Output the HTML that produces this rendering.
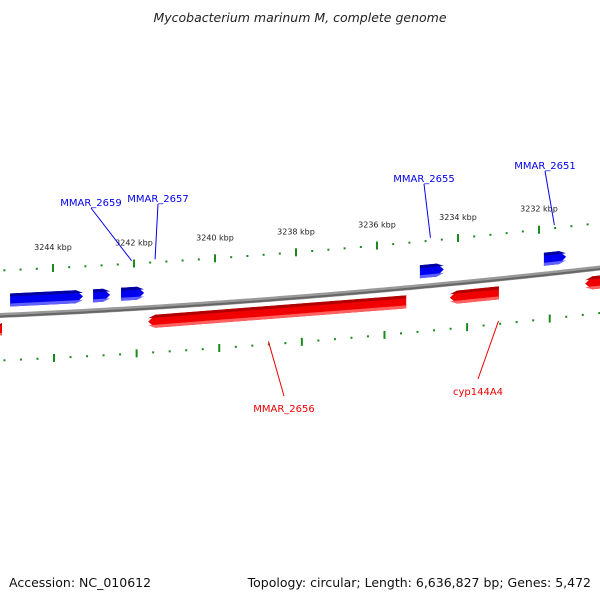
<!DOCTYPE html>
<html><head><meta charset="utf-8"><style>
body{margin:0;background:#fff;width:600px;height:600px;overflow:hidden}
svg{display:block;font-family:"DejaVu Sans","Liberation Sans",sans-serif}
</style></head><body>
<svg id="map" width="600" height="600" viewBox="0 0 600 600">
<text x="300" y="22" text-anchor="middle" font-size="12.5" font-style="italic" fill="#222">Mycobacterium marinum M, complete genome</text>
<text x="9" y="587" font-size="12.5" fill="#111">Accession: NC_010612</text>
<text x="591" y="587" text-anchor="end" font-size="12.5" fill="#111">Topology: circular; Length: 6,636,827 bp; Genes: 5,472</text>
<g id="ticks"></g><g id="backbone"></g><g id="genes"></g><g id="labels"></g>
</svg>
<script>
// data (kbp positions)
const majorTicks = [3246, 3244, 3242, 3240, 3238, 3236, 3234, 3232, 3230];
const majorLabels = ["3246 kbp","3244 kbp","3242 kbp","3240 kbp","3238 kbp","3236 kbp","3234 kbp","3232 kbp","3230 kbp"];
const fwdStarts = [3245.06, 3243.01, 3242.32, 3234.94, 3231.88];
const fwdEnds   = [3243.26, 3242.59, 3241.75, 3234.35, 3231.33];
const revStarts = [3241.65, 3234.20, 3230.86, 3245.40];
const revEnds   = [3235.28, 3232.99, 3230.30, 3245.26];
const labelNames = ["MMAR_2659","MMAR_2657","MMAR_2655","MMAR_2651","MMAR_2656","cyp144A4"];
const labelPos   = [3242.06, 3241.48, 3234.68, 3231.62, 3238.68, 3233.00];
const labelStrand = [1,1,1,1,-1,-1];

const NS='http://www.w3.org/2000/svg';
function xOf(k){return 53 + (3244 - k) * 40.5;}
function yBase(x){return 315.5 - 0.0442*x - 0.0000583*x*x;}
function mk(tag, attrs, parent){const e=document.createElementNS(NS,tag);for(const k in attrs)e.setAttribute(k,attrs[k]);parent.appendChild(e);return e;}
const gT=document.getElementById('ticks'), gB=document.getElementById('backbone'), gG=document.getElementById('genes'), gL=document.getElementById('labels');

// backbone
let d='';for(let x=-5;x<=605;x+=5){d+=(x===-5?'M':'L')+x+','+yBase(x).toFixed(2);}
let bb=mk('path',{d:d,fill:'none',stroke:'#999','stroke-width':5},gB);


let bb2=mk('path',{d:d,fill:'none',stroke:'#666','stroke-width':2,transform:'translate(0,1)'},gB);



// ticks (minor every 0.4 kbp, major every 2 kbp)
for(let i=0;i<=45;i++){
  const k=3246.4 - i*0.4; const major = Math.abs((k/2)-Math.round(k/2))<0.01;
  [-45,45].forEach(off=>{
    const x = off<0 ? xOf(k) : 3 + (xOf(k)-3)*1.02;
    const y = yBase(x)+off;
    const len = major?8:2;
    const t=mk('line',{x1:x,y1:y-len/2,x2:x,y2:y+len/2,stroke:'#1a8a1a','stroke-width':2},gT);
    
    
  });
}
majorTicks.forEach((k,i)=>{
  const x=xOf(k); const t=mk('text',{x:x,y:yBase(x)-63,'text-anchor':'middle','font-size':8,fill:'#222'},gT);
  t.textContent=majorLabels[i];
  
  
});

function gene(s,e,strand,name){
  const x1=xOf(s), x2=xOf(e); const lo=Math.min(x1,x2), hi=Math.max(x1,x2);
  const off = strand>0 ? -15 : 14; const h=13; const tip=7;
  const main = strand>0?'#0000f0':'#f00000', dark=strand>0?'#0000a0':'#b00000', light=strand>0?'#6060ff':'#ff6060';
  const g=mk('g',{},gG);
  
  
  function poly(t,b,col){
    const yL=yBase(lo)+off, yH=yBase(hi)+off, ym=yBase((lo+hi)/2)+off;
    let p;
    if(strand>0){
      const hb=hi-tip<lo?lo:hi-tip;
      p=[[lo,yL+t],[hb,yBase(hb)+off+t],[hb,yBase(hb)+off+b],[lo,yL+b]];
      p.splice(2,0,[hi,yH+(t+b)/2*0]);
      p=[[lo,yL+t],[hb,yBase(hb)+off+t],[hi,yH],[hb,yBase(hb)+off+b],[lo,yL+b]].map((q,i)=>q);
      // clip tip to band
      p[2][1]=yH + Math.max(t,Math.min(b,0));
    } else {
      const lb=lo+tip>hi?hi:lo+tip;
      p=[[lb,yBase(lb)+off+t],[hi,yH+t],[hi,yH+b],[lb,yBase(lb)+off+b],[lo,yL+Math.max(t,Math.min(b,0))]];
    }
    mk('polygon',{points:p.map(q=>q[0].toFixed(1)+','+q[1].toFixed(1)).join(' '),fill:col},g);
  }
  poly(-h/2,h/2,main);
  poly(-h/2,-h/2+3,dark);
  poly(h/2-3,h/2,light);
}
fwdStarts.forEach((s,i)=>gene(s,fwdEnds[i],1,'forward-gene'));
revStarts.forEach((s,i)=>gene(s,revEnds[i],-1,'reverse-gene'));

const labelXY=[[91,206],[158,202],[424,182],[545,169],[284,412],[478,395]];
labelNames.forEach((n,i)=>{
  const col=labelStrand[i]>0?'#0000ee':'#ee0000';
  const gx=xOf(labelPos[i]);
  const gy= labelStrand[i]>0 ? yBase(gx)-48 : yBase(gx)+42;
  const lx=labelXY[i][0], ly=labelStrand[i]>0?labelXY[i][1]+2:labelXY[i][1]-16;
  const ln=mk('line',{x1:gx,y1:gy,x2:lx,y2:ly,stroke:col,'stroke-width':1},gL);
  
  
  const t=mk('text',{x:lx,y:labelXY[i][1],'text-anchor':'middle','font-size':10,fill:col},gL);
  t.textContent=n;
  
  
});
</script>
</body></html>
